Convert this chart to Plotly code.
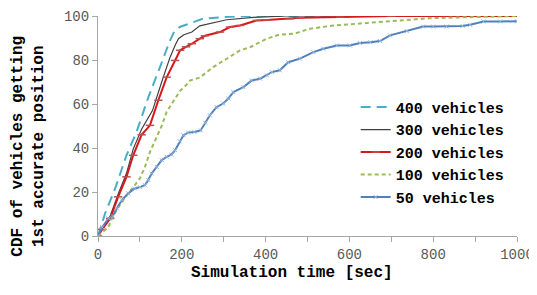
import plotly.graph_objects as go

# ---- data ----
t400 = [0, 8, 17, 41, 68, 92, 120, 148, 170, 182, 195, 210, 250, 300, 350, 1000]
v400 = [0, 5, 10.3, 21.6, 36.7, 47.3, 63, 76.8, 88, 93, 95, 96, 98.7, 99.5, 100, 100]

t300 = [0, 10, 29, 48, 68, 84, 104, 112, 130, 152, 172, 185, 192, 205, 224, 243, 255, 307, 371, 450, 1000]
v300 = [0, 3.5, 9, 19, 28.5, 39.5, 48.5, 51, 57, 70, 81.3, 87, 89.7, 91.5, 92.7, 95.5, 96, 98.3, 99.4, 100, 100]

t200 = [0, 10, 29, 48, 68, 84, 104, 124, 144, 164, 184, 196, 210, 224, 243, 255, 291, 315, 339, 379, 403, 458, 482, 578, 700, 1000]
v200 = [0, 3, 8, 17.8, 26.9, 36.7, 46, 50.3, 61.7, 72.2, 79.8, 84.4, 86, 87.4, 89.7, 91, 92.7, 95, 95.7, 98, 98.2, 98.7, 99.2, 99.5, 100, 100]

t100 = [0, 10, 25, 37, 52, 72, 88, 100, 112, 124, 140, 152, 164, 180, 196, 210, 220, 243, 275, 315, 339, 363, 403, 434, 467, 506, 538, 562, 633, 713, 792, 872, 951, 1000]
v100 = [0, 1.5, 4.2, 9.5, 14, 19.4, 23.1, 26.2, 31.4, 38.2, 45, 50, 56.5, 61.5, 66, 68.5, 70.7, 72, 76.8, 81.5, 84.4, 85.8, 89.7, 91.6, 91.9, 94.2, 95, 95.7, 96.7, 97.9, 99, 99.4, 99.8, 100]

t50 = [0, 10, 25, 35, 45, 57, 72, 88, 100, 112, 120, 128, 140, 152, 164, 175, 184, 195, 204, 215, 230, 245, 256, 267, 283, 299, 311, 323, 347, 367, 387, 403, 415, 434, 454, 482, 514, 538, 570, 601, 625, 650, 673, 697, 737, 776, 800, 832, 870, 888, 920, 960, 1000]
v50 = [0, 4, 8, 9, 12.6, 16.3, 19.4, 21.6, 22.2, 23.1, 25.5, 28.4, 31.4, 34.5, 36, 37, 39, 43, 45.8, 47, 47.3, 48, 51.5, 54.9, 58.6, 60.2, 62.5, 65.4, 67.7, 70.7, 71.5, 73, 74.5, 75.3, 79, 80.6, 83.6, 85.1, 86.6, 86.6, 87.7, 88.1, 88.6, 91.2, 93.1, 95.2, 95.2, 95.2, 95.5, 96, 97.5, 97.5, 97.6]

names = ["400 vehicles", "300 vehicles", "200 vehicles", "100 vehicles", "50 vehicles"]
x_ticks = [0, 100, 200, 300, 400, 500, 600, 700, 800, 900, 1000]
x_ticktext = ["0", "", "200", "", "400", "", "600", "", "800", "", "1000"]
y_ticks = [0, 20, 40, 60, 80, 100]

MONO = "Liberation Mono, Courier New, monospace"

fig = go.Figure()
fig.add_trace(go.Scatter(x=t400, y=v400, name=names[0], mode="lines",
                         line=dict(color="#4BACC6", width=2, dash="10px,6px")))
fig.add_trace(go.Scatter(x=t300, y=v300, name=names[1], mode="lines",
                         line=dict(color="#404040", width=1.2)))
fig.add_trace(go.Scatter(x=t200, y=v200, name=names[2], mode="lines+markers",
                         line=dict(color="#D81818", width=2),
                         marker=dict(symbol="line-ew", size=6, color="#C0504D",
                                     line=dict(color="#C0504D", width=1.5))))
fig.add_trace(go.Scatter(x=t100, y=v100, name=names[3], mode="lines",
                         line=dict(color="#9BBB59", width=2, dash="4px,3px")))
fig.add_trace(go.Scatter(x=t50, y=v50, name=names[4], mode="lines+markers",
                         line=dict(color="#4F81BD", width=2),
                         marker=dict(symbol="x-thin", size=4, color="#95B3D7",
                                     line=dict(color="#95B3D7", width=1))))

fig.update_layout(
    width=529, height=279,
    margin=dict(l=90, r=20, t=8, b=51, autoexpand=False),
    paper_bgcolor="white", plot_bgcolor="white",
    showlegend=True,
    legend=dict(x=0.615, y=0.66, xanchor="left", yanchor="top",
                bgcolor="rgba(0,0,0,0)",
                font=dict(family=MONO, size=15, color="black", weight="bold"),
                itemwidth=30, tracegroupgap=0),
    font=dict(family=MONO),
)
fig.update_xaxes(range=[0, 1000], tickvals=x_ticks, ticktext=x_ticktext, automargin=False,
                 showgrid=False, zeroline=False, showline=True, linecolor="#A6A6A6", linewidth=1,
                 ticks="outside", ticklen=5, tickcolor="#A6A6A6",
                 tickfont=dict(family=MONO, size=14, color="#595959"))
fig.update_yaxes(range=[0, 100], tickvals=y_ticks, automargin=False,
                 showgrid=False, zeroline=False, showline=True, linecolor="#A6A6A6", linewidth=1,
                 ticks="outside", ticklen=5, tickcolor="#A6A6A6",
                 tickfont=dict(family=MONO, size=14, color="#595959"))

fig.add_annotation(text="CDF of vehicles getting<br>1st accurate position",
                   xref="paper", yref="paper", x=-0.165, y=0.41, textangle=-90,
                   showarrow=False, xanchor="center", yanchor="middle",
                   font=dict(family=MONO, size=16, color="black", weight="bold"))
fig.add_annotation(text="Simulation time [sec]",
                   xref="paper", yref="paper", x=0.464, y=-0.168,
                   showarrow=False, xanchor="center", yanchor="middle",
                   font=dict(family=MONO, size=16, color="black", weight="bold"))

fig.write_html("out.html")
